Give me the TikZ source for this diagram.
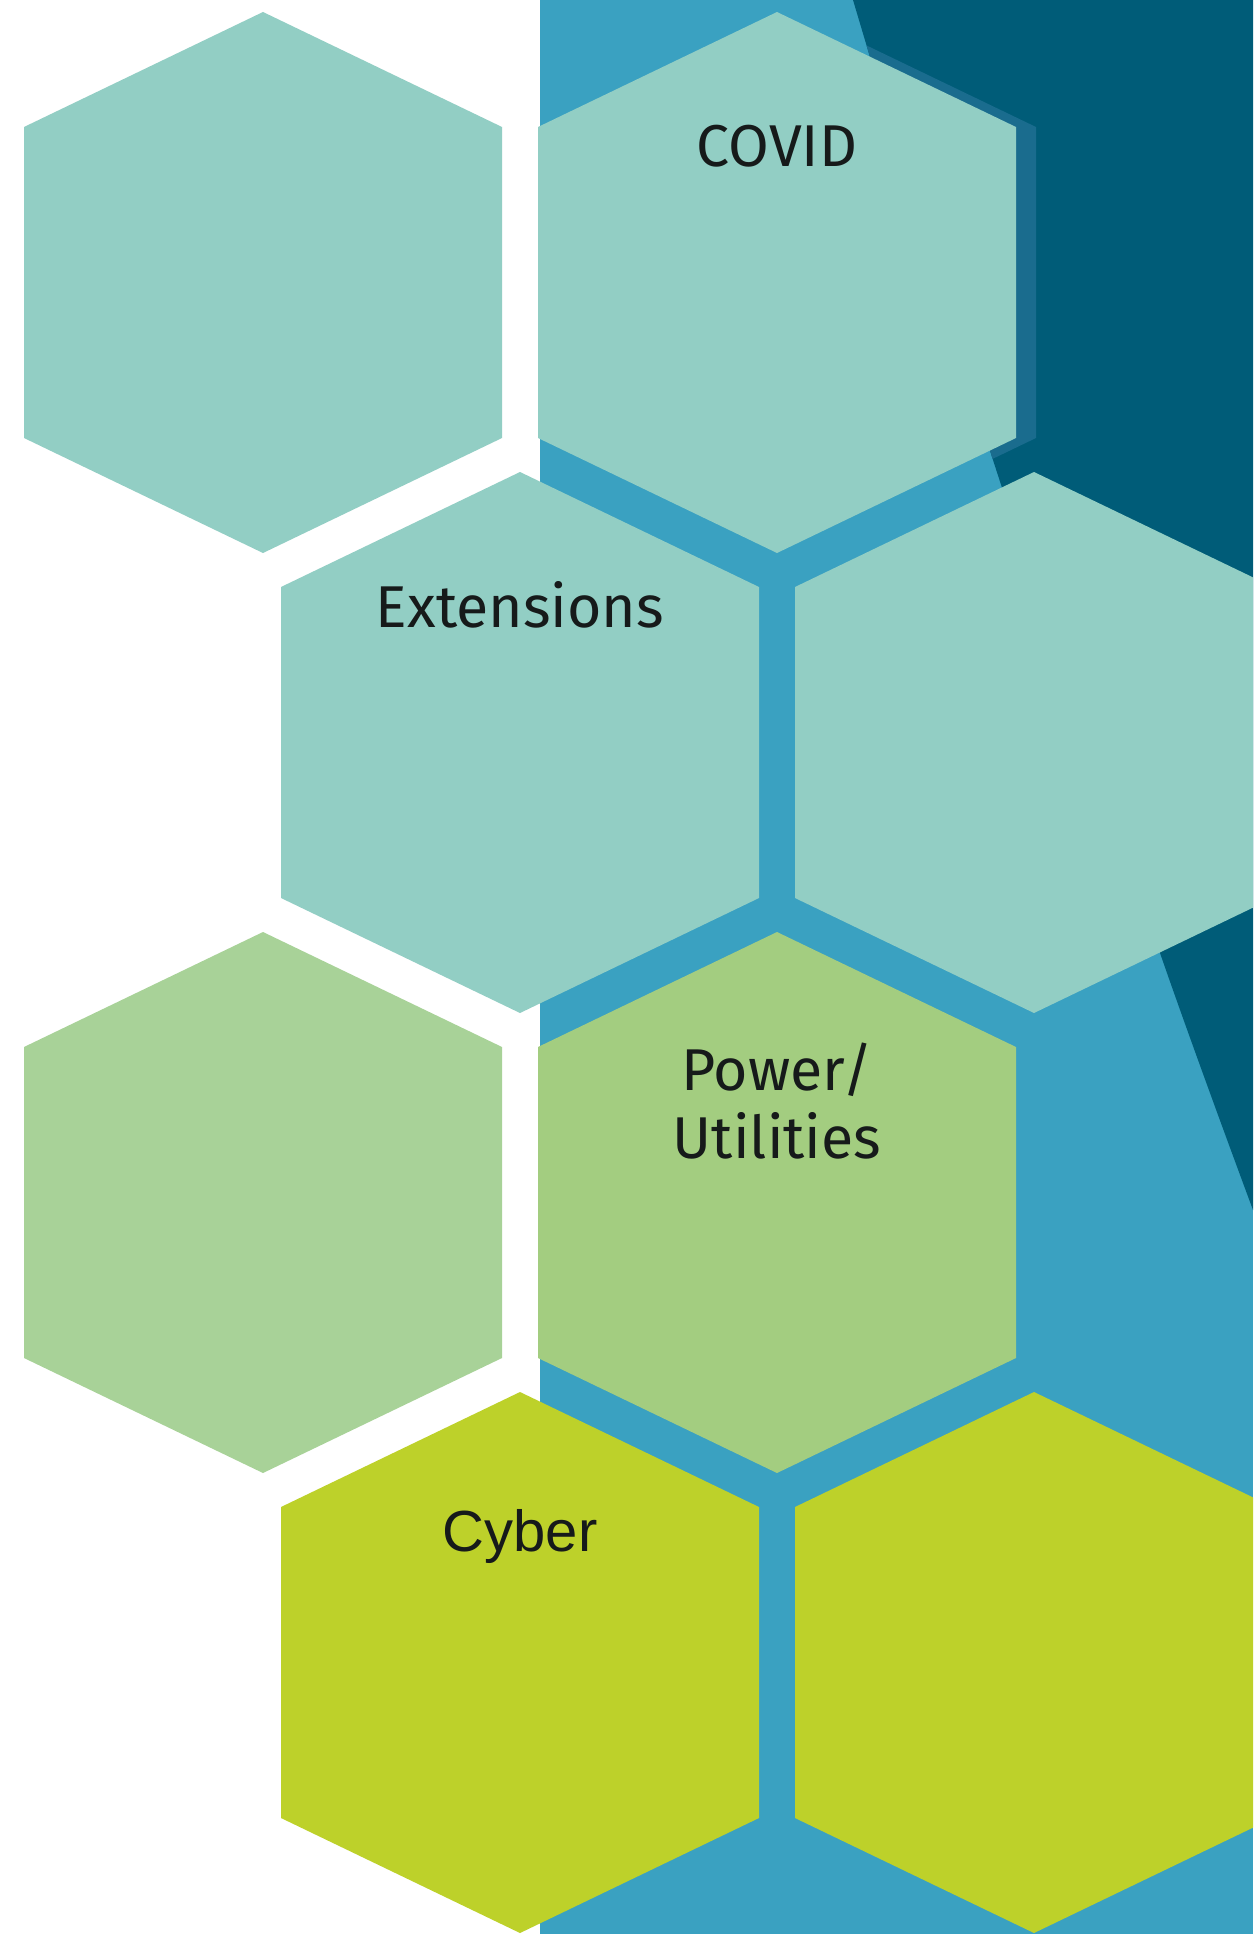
\documentclass[tikz,border=0pt]{standalone}
\usepackage{fontspec}
\setmainfont{Fira Sans}
\newfontfamily\cyberfont{Liberation Sans}
\definecolor{hexteal}{RGB}{146,206,196}
\definecolor{hexpale}{RGB}{168,210,152}
\definecolor{hexgreen}{RGB}{163,205,128}
\definecolor{hexlime}{RGB}{189,209,42}
\definecolor{bgblue}{RGB}{58,161,193}
\definecolor{bgnavy}{RGB}{0,92,120}
\definecolor{hexshade}{RGB}{26,108,142}
\definecolor{labelink}{RGB}{22,26,26}
\tikzset{
  hexcell/.pic={
    \fill[pic actions] (0,-270.5) -- (239,-155.5) -- (239,155.5) -- (0,270.5)
      -- (-239,155.5) -- (-239,-155.5) -- cycle;
  },
  hexlabel/.style={text=labelink, inner sep=0pt, anchor=base,
    font=\fontsize{59}{68}\selectfont},
}
\begin{document}
\begin{tikzpicture}[x=1pt, y=-1pt]
  \useasboundingbox (0,0) rectangle (1253,1934);
  \clip (0,0) rectangle (1253,1934);
  % page ground
  \fill[white] (0,0) rectangle (1253,1934);
  % blue panel behind the honeycomb
  \fill[bgblue] (540,0) rectangle (1253,1934);
  % dark wedge in the upper right
  \fill[bgnavy] plot[smooth] coordinates {(853,0) (993,460) (1160,953) (1253,1210)}
    -- (1253,0) -- cycle;
  % shade along the right side of the top hexagon, only on the dark wedge
  \begin{scope}
    \clip plot[smooth] coordinates {(853,0) (993,460) (1160,953) (1253,1210)}
      -- (1253,0) -- cycle;
    \pic[fill=hexshade] at (797,282.5) {hexcell};
  \end{scope}
  % honeycomb, row by row
  \pic[fill=hexteal]  at (263,282.5)  {hexcell};
  \pic[fill=hexteal]  at (777,282.5)  {hexcell};
  \pic[fill=hexteal]  at (520,742.5)  {hexcell};
  \pic[fill=hexteal]  at (1034,742.5) {hexcell};
  \pic[fill=hexpale]  at (263,1202.5) {hexcell};
  \pic[fill=hexgreen] at (777,1202.5) {hexcell};
  \pic[fill=hexlime]  at (520,1662.5) {hexcell};
  \pic[fill=hexlime]  at (1034,1662.5) {hexcell};
  % labels
  \node[hexlabel] (covid) at (777,167) {COVID};
  \node[hexlabel] (ext) at (520,627) {Extensions};
  \node[hexlabel] (power) at (777,1090) {Power/};
  \node[hexlabel] (util) at (777,1158) {Utilities};
  \node[hexlabel, font=\cyberfont\fontsize{58}{66}\selectfont] (cyber) at (520,1551) {Cyber};
\end{tikzpicture}
\end{document}
